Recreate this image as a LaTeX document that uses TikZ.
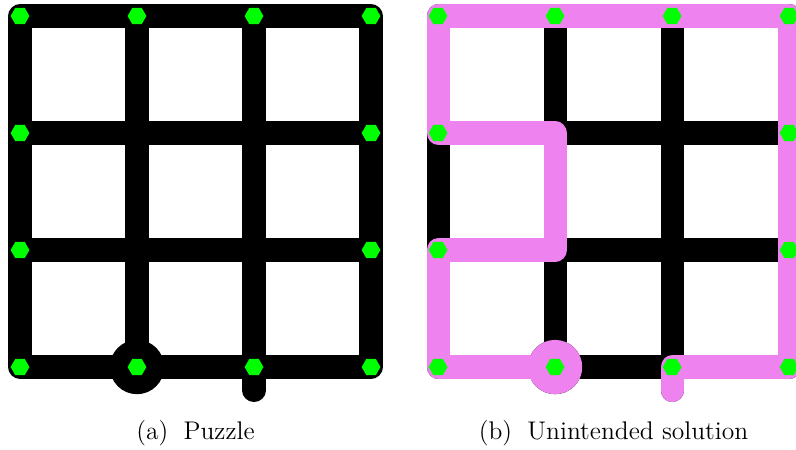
\documentclass[tikz,border=0pt]{standalone}
\usetikzlibrary{shapes.geometric}
\definecolor{hexgreen}{RGB}{0,255,0}
\definecolor{trace}{RGB}{238,130,238}

\begin{document}
\begin{tikzpicture}[x=1.87cm,y=1.87cm,
  wire/.style={line width=0.37cm,line join=round},
  gem/.style={regular polygon,regular polygon sides=6,fill=hexgreen,inner sep=0pt,minimum size=0.3cm},
  caption/.style={anchor=base,font=\fontsize{11.6}{14}\selectfont}]
\useasboundingbox (-0.171,-0.701) rectangle (6.632,3.137);
% grid points of both panels
\foreach \p/\dx in {a/0,b/3.573}{
  \foreach \i in {0,...,3}{
    \foreach \j in {0,...,3}{
      \coordinate (\p\i\j) at (\dx+\i,\j);
    }
  }
  \coordinate (exit-\p) at (\dx+2,-0.2);
}
% black grids, start circle and exit
\foreach \p in {a,b}{
  \draw[wire] (\p00) -- (\p30) -- (\p33) -- (\p03) -- cycle;
  \draw[wire] (\p10) -- (\p13) (\p20) -- (\p23) (\p01) -- (\p31) (\p02) -- (\p32);
  \draw[wire,line cap=round] (\p20) -- (exit-\p);
  \fill (\p10) circle (0.232);
}
% the unintended solution
\draw[wire,trace,line cap=round] (b10) -- (b00) -- (b01) -- (b11) -- (b12) -- (b02)
  -- (b03) -- (b33) -- (b30) -- (b20) -- (exit-b);
\fill[trace] (b10) circle (0.232);
% hexagon dots
\foreach \p in {a,b}{
  \foreach \i/\j in {0/0,1/0,2/0,3/0,0/1,3/1,0/2,3/2,0/3,1/3,2/3,3/3}{
    \node[gem] (g\p\i\j) at (\p\i\j) {};
  }
}
\node[caption] (cap-a) at (1.5,-0.615) {(a)\hspace{0.6em}Puzzle};
\node[caption] (cap-b) at (5.073,-0.615) {(b)\hspace{0.6em}Unintended solution};
\end{tikzpicture}
\end{document}
